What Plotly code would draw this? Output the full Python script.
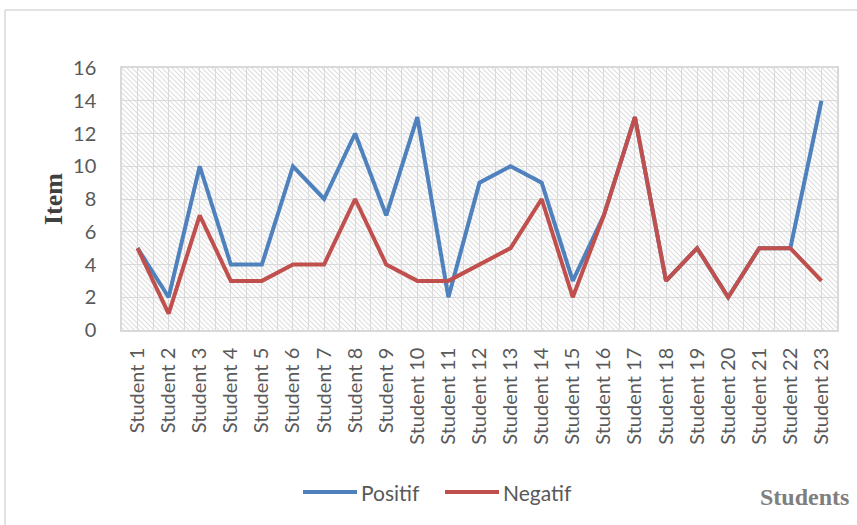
import base64
import plotly.graph_objects as go

# data
students = [f"Student {i}" for i in range(1, 24)]
positif = [5, 2, 10, 4, 4, 10, 8, 12, 7, 13, 2, 9, 10, 9, 3, 7, 13, 3, 5, 2, 5, 5, 14]
negatif = [5, 1, 7, 3, 3, 4, 4, 8, 4, 3, 3, 4, 5, 8, 2, 7, 13, 3, 5, 2, 5, 5, 3]
y_ticks = list(range(0, 17, 2))
series_names = ["Positif", "Negatif"]
series_colors = ["#4F81BD", "#C0504D"]

W, H = 857, 525
L, R, T, B = 122, 20, 68, 195
PW, PH = W - L - R, H - T - B


def px_x(x):
    return (x - L) / PW


def px_y(y):
    return (T + PH - y) / PH


# diagonal hatch used as plot-area fill (like the Excel pattern fill)
svg = (
    f'<svg xmlns="http://www.w3.org/2000/svg" width="{PW}" height="{PH}">'
    '<defs><pattern id="p" width="5" height="5" patternUnits="userSpaceOnUse">'
    '<path d="M-1,-1 L6,6 M-1,4 L1,6 M4,-1 L6,1" stroke="#dedede" stroke-width="1.1"/>'
    '</pattern></defs>'
    f'<rect width="{PW}" height="{PH}" fill="url(#p)"/></svg>'
)
hatch = "data:image/svg+xml;base64," + base64.b64encode(svg.encode()).decode()

x_idx = list(range(len(students)))

fig = go.Figure()
for name, vals, col in zip(series_names, [positif, negatif], series_colors):
    fig.add_trace(go.Scatter(x=x_idx, y=vals, mode="lines", name=name,
                             line=dict(color=col, width=4)))

tick_font = dict(family="Lato, Carlito, sans-serif", size=20, color="#595959")
leg_font = dict(family="Lato, Carlito, sans-serif", size=21, color="#595959")

# legend drawn by hand so the sample lines are as long as Excel's
shapes = [
    # outer chart border
    dict(type="line", xref="paper", yref="paper",
         x0=px_x(5), x1=px_x(W), y0=px_y(10), y1=px_y(10),
         line=dict(color="#d9d9d9", width=1.5)),
    dict(type="line", xref="paper", yref="paper",
         x0=px_x(5), x1=px_x(5), y0=px_y(H + 5), y1=px_y(10),
         line=dict(color="#d9d9d9", width=1.5)),
]
annotations = [
    dict(text="<b>Item</b>", xref="paper", yref="paper", x=px_x(53), y=0.5,
         xanchor="center", yanchor="middle", textangle=-90, showarrow=False,
         font=dict(family="Liberation Serif, Times New Roman, serif", size=26, color="#404040")),
    dict(text="<b>Students</b>", xref="paper", yref="paper", x=px_x(758), y=px_y(497),
         xanchor="left", yanchor="middle", showarrow=False,
         font=dict(family="Liberation Serif, Times New Roman, serif", size=24, color="#7f7f7f")),
]
leg_x = [303, 445]
for lx, name, col in zip(leg_x, series_names, series_colors):
    shapes.append(dict(type="line", xref="paper", yref="paper",
                       x0=px_x(lx), x1=px_x(lx + 54), y0=px_y(492), y1=px_y(492),
                       line=dict(color=col, width=4)))
    annotations.append(dict(text=name, xref="paper", yref="paper", x=px_x(lx + 56), y=px_y(492),
                            xanchor="left", yanchor="middle", showarrow=False, font=leg_font))

fig.update_layout(
    width=W, height=H,
    margin=dict(l=L, r=R, t=T, b=B),
    paper_bgcolor="white",
    plot_bgcolor="white",
    showlegend=False,
    images=[dict(source=hatch, xref="paper", yref="paper", x=0, y=1,
                 sizex=1, sizey=1, sizing="stretch", layer="below",
                 xanchor="left", yanchor="top")],
    shapes=shapes,
    annotations=annotations,
)

fig.update_xaxes(
    range=[-0.5, len(students) - 0.5],
    tickmode="array", tickvals=x_idx, ticktext=students, tickangle=-90,
    tickfont=tick_font, ticks="", ticklabelstandoff=8,
    showgrid=True, gridcolor="#d9d9d9", gridwidth=1,
    minor=dict(tick0=0.5, dtick=1, showgrid=True, gridcolor="#d9d9d9", gridwidth=1),
    showline=True, linecolor="#d9d9d9", linewidth=1.5, mirror=True,
    zeroline=False,
)
fig.update_yaxes(
    range=[0, 16], tickmode="array", tickvals=y_ticks,
    tickfont=tick_font, ticks="", ticklabelstandoff=20,
    showgrid=True, gridcolor="#d9d9d9", gridwidth=1,
    showline=True, linecolor="#d9d9d9", linewidth=1.5, mirror=True,
    zeroline=False,
)

fig.write_html("out.html", config={"displayModeBar": False},
               post_script="document.body.style.margin='0';")
